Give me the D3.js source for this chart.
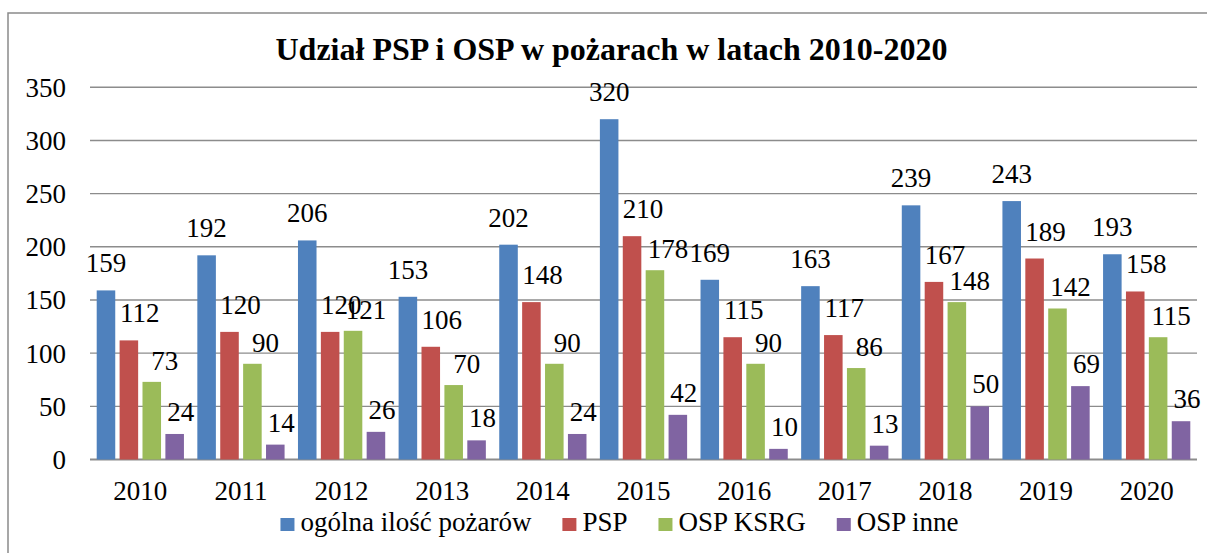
<!DOCTYPE html>
<html>
<head>
<meta charset="utf-8">
<script src="https://cdn.jsdelivr.net/npm/d3@7"></script>
<style>
  body { margin: 0; background: #fff; }
  svg { display: block; }
  text { font-family: 'Liberation Serif', 'Tinos', 'Times New Roman', 'DejaVu Serif', serif; }
</style>
</head>
<body>
<div id="chart"></div>
<script>
// dane
var years = ["2010", "2011", "2012", "2013", "2014", "2015", "2016", "2017", "2018", "2019", "2020"];
var seriesNames = ["ogólna ilość pożarów", "PSP", "OSP KSRG", "OSP inne"];
var ogolna = [159, 192, 206, 153, 202, 320, 169, 163, 239, 243, 193];
var psp = [112, 120, 120, 106, 148, 210, 115, 117, 167, 189, 158];
var ospKsrg = [73, 90, 121, 70, 90, 178, 90, 86, 148, 142, 115];
var ospInne = [24, 14, 26, 18, 24, 42, 10, 13, 50, 69, 36];
var yTicks = [0, 50, 100, 150, 200, 250, 300, 350];

var colors = ["#4f81bd", "#c0504d", "#9bbb59", "#8064a2"];
var labelDx = [0, 11, 13, 6];
var labelDy = [18, 18, 12, 13];

var width = 1207;
var height = 553;
var padding = {top: 87.3, right: 10, left: 90, bottom: 93.5};

var svg = d3.select("#chart").append("svg").attr("width", width).attr("height", height);

// ramka
svg.append("rect")
    .attr("x", 8).attr("y", 13)
    .attr("width", 1300).attr("height", 700)
    .attr("fill", "none")
    .attr("stroke", "#8a8a8a")
    .attr("stroke-width", 1.5);

var x0 = d3.scaleBand().domain(years).range([padding.left, width - padding.right]);
var x1 = d3.scaleBand().domain(d3.range(4)).range([6.7, x0.bandwidth() - 6.7]).paddingInner(0.19);
var y = d3.scaleLinear().domain([0, 350]).range([height - padding.bottom, padding.top]);

// siatka
svg.append("g")
    .selectAll("line")
    .data(yTicks)
    .enter()
    .append("line")
    .attr("x1", padding.left)
    .attr("x2", width - padding.right)
    .attr("y1", function (d) { return y(d); })
    .attr("y2", function (d) { return y(d); })
    .attr("stroke", "#8c8c8c")
    .attr("stroke-width", function (d) { return d === 0 ? 2.2 : 1.4; });

// oś Y
svg.append("g")
    .selectAll("text")
    .data(yTicks)
    .enter()
    .append("text")
    .attr("x", 66)
    .attr("y", function (d) { return y(d); })
    .attr("dy", "0.35em")
    .attr("text-anchor", "end")
    .attr("font-size", "27px")
    .attr("fill", "#000")
    .text(function (d) { return d; });

// oś X
svg.append("g")
    .selectAll("text")
    .data(years)
    .enter()
    .append("text")
    .attr("x", function (d) { return x0(d) + x0.bandwidth() / 2; })
    .attr("y", 500)
    .attr("text-anchor", "middle")
    .attr("font-size", "27px")
    .attr("fill", "#000")
    .text(function (d) { return d; });

var series = [ogolna, psp, ospKsrg, ospInne];

var rows = [];
series.forEach(function (vals, s) {
    vals.forEach(function (v, i) {
        rows.push({year: years[i], s: s, value: v});
    });
});

// słupki
svg.append("g")
    .selectAll("rect")
    .data(rows)
    .enter()
    .append("rect")
    .attr("x", function (d) { return x0(d.year) + x1(d.s); })
    .attr("y", function (d) { return y(d.value); })
    .attr("width", x1.bandwidth())
    .attr("height", function (d) { return y(0) - y(d.value); })
    .attr("fill", function (d) { return colors[d.s]; });

// etykiety
svg.append("g")
    .selectAll("text")
    .data(rows)
    .enter()
    .append("text")
    .attr("x", function (d) { return x0(d.year) + x1(d.s) + x1.bandwidth() / 2 + labelDx[d.s]; })
    .attr("y", function (d) { return y(d.value) - labelDy[d.s]; })
    .attr("text-anchor", "middle")
    .attr("font-size", "27px")
    .attr("fill", "#000")
    .text(function (d) { return d.value; });

// tytuł
svg.append("text")
    .attr("x", 611.5)
    .attr("y", 60)
    .attr("text-anchor", "middle")
    .attr("font-size", "32px")
    .attr("font-weight", "bold")
    .attr("fill", "#000")
    .text("Udział PSP i OSP w pożarach w latach 2010-2020");

// legenda
var legend = svg.append("g");
var items = legend.selectAll("g")
    .data(seriesNames)
    .enter()
    .append("g");

items.append("rect")
    .attr("y", 518)
    .attr("width", 14)
    .attr("height", 13)
    .attr("fill", function (d, i) { return colors[i]; });

items.append("text")
    .attr("x", 20)
    .attr("y", 531)
    .attr("font-size", "27px")
    .attr("fill", "#000")
    .text(function (d) { return d; });

var pos = 0;
items.each(function () {
    var g = d3.select(this);
    g.attr("transform", "translate(" + pos + ",0)");
    pos += 20 + g.select("text").node().getComputedTextLength() + 31;
});
var legendWidth = pos - 31;
legend.attr("transform", "translate(" + (619.5 - legendWidth / 2) + ",0)");
</script>
</body>
</html>
